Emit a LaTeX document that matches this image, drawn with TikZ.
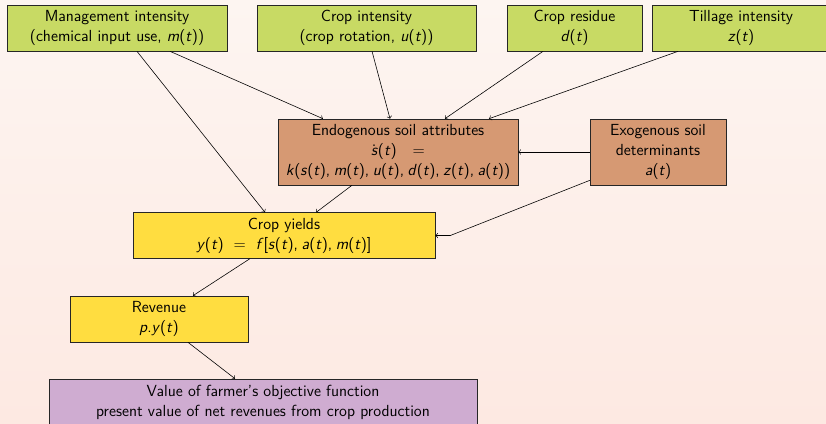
\documentclass[tikz,border=0pt]{standalone}
\usetikzlibrary{shadows}
\definecolor{leafgreen}{RGB}{200,218,100}
\definecolor{soilbrown}{RGB}{214,153,115}
\definecolor{yieldyellow}{RGB}{255,221,64}
\definecolor{valuepurple}{RGB}{207,172,209}
\definecolor{slidetop}{RGB}{253,245,241}
\definecolor{slidebottom}{RGB}{253,233,226}
\newcommand{\mv}[1]{\textsl{#1}}
\newcommand{\ofT}[1]{\mv{#1}(\mv{t\/})}
\newcommand{\cm}{,\kern2.4pt}
\begin{document}
\begin{tikzpicture}[x=0.686pt,y=-0.686pt,
    font=\fontsize{11}{13.6}\selectfont\sffamily,
    box/.style={draw=black!85,align=center,inner sep=1pt,
      drop shadow={shadow xshift=0.6pt,shadow yshift=-0.6pt,opacity=0.35}},
    inbox/.style={box,fill=leafgreen,minimum height=31.6pt},
    soilbox/.style={box,fill=soilbrown,minimum height=45.3pt},
    yieldbox/.style={box,fill=yieldyellow,minimum height=31.3pt},
    goalbox/.style={box,fill=valuepurple,minimum height=31.6pt}]
  \shade[top color=slidetop,bottom color=slidebottom] (0,0) rectangle (826,423);
  \useasboundingbox (0,0) rectangle (826,423);
  \node[inbox,minimum width=150.9pt] (mgmt) at (117,28) {Management intensity\\(chemical input use, \ofT{m})};
  \node[inbox,minimum width=150.2pt] (cropint) at (366.5,28) {Crop intensity\\(crop rotation, \ofT{u})};
  \node[inbox,minimum width=92.6pt] (residue) at (574.5,28) {Crop residue\\\ofT{d}};
  \node[inbox,minimum width=122pt] (tillage) at (741,28) {Tillage intensity\\\ofT{z}};
  \node[soilbox,minimum width=164.6pt] (endo) at (398,152) {Endogenous soil attributes\\\.{\mv{s}}(\mv{t\/})\quad=\\\mv{k}(\ofT{s}\cm\ofT{m}\cm\ofT{u}\cm\ofT{d}\cm\ofT{z}\cm\ofT{a})};
  \node[soilbox,minimum width=93.3pt] (exo) at (658,152) {Exogenous soil\\determinants\\\ofT{a}};
  \node[yieldbox,minimum width=207.2pt] (yields) at (284,235.5) {Crop yields\\\ofT{y}\hspace{2.4mm}=\hspace{2.4mm}\mv{f\/}[\ofT{s}\cm\ofT{a}\cm\ofT{m}]};
  \node[yieldbox,minimum width=122.1pt,minimum height=31.6pt] (revenue) at (159,319) {Revenue\\\mv{p}.\ofT{y}};
  \node[goalbox,minimum width=293.6pt] (value) at (263,402) {Value of farmer's objective function\\present value of net revenues from crop production};
  \coordinate (kink) at ([xshift=10.3pt]yields.east);
  \draw[->] ([xshift=13.7pt]mgmt.south) -- ([xshift=-13pt]yields.north);
  \draw[->] ([xshift=36.4pt]mgmt.south) -- ([xshift=-51.5pt]endo.north);
  \draw[->] ([xshift=3.8pt]cropint.south) -- ([xshift=-5.5pt]endo.north);
  \draw[->] ([xshift=-21.6pt]residue.south) -- ([xshift=32.2pt]endo.north);
  \draw[->] ([xshift=-43.2pt]tillage.south) -- ([xshift=62.4pt]endo.north);
  \draw[->] (exo.west) -- (endo.east);
  \draw[->] ([yshift=3.4pt]exo.south west) -- (kink) -- (yields.east);
  \draw[->] ([xshift=-31.6pt]endo.south) -- ([xshift=22pt]yields.north);
  \draw[->] ([xshift=-23.3pt]yields.south) -- ([xshift=23.3pt]revenue.north);
  \draw[->] ([xshift=19.9pt]revenue.south) -- ([xshift=-19.2pt]value.north);
\end{tikzpicture}
\end{document}
